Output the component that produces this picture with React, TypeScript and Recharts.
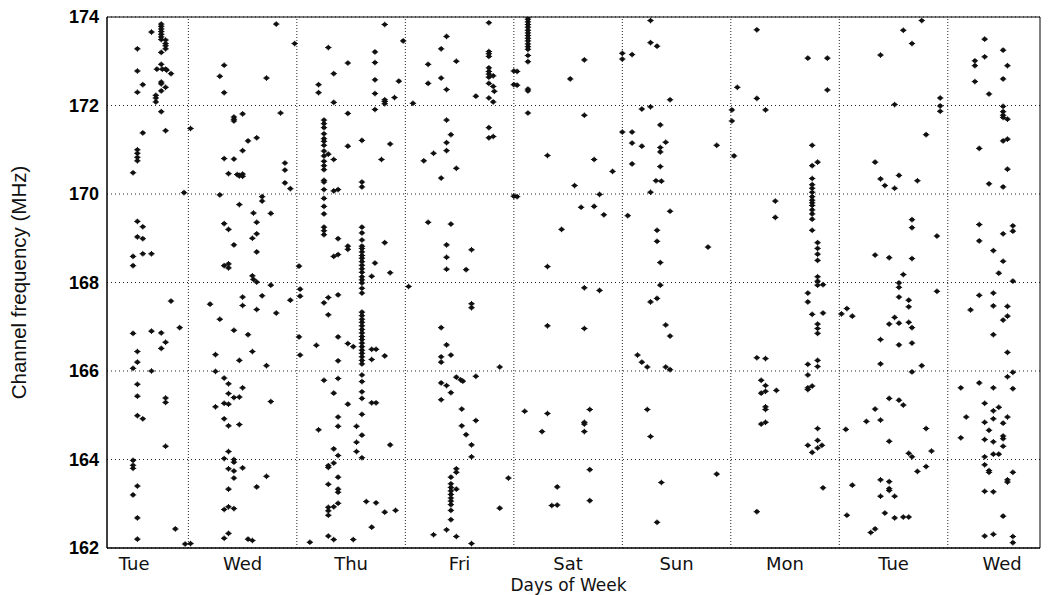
import React from 'react';
import {
  ScatterChart,
  Scatter,
  XAxis,
  YAxis,
  CartesianGrid,
  ReferenceLine,
  ReferenceArea,
} from 'recharts';

// Day-of-week labels (tick at the middle of each day; x unit = days since Tue 00:00)
const dayLabels = ['Tue', 'Wed', 'Thu', 'Fri', 'Sat', 'Sun', 'Mon', 'Tue', 'Wed'];
const dayTicks = [0.5, 1.5, 2.5, 3.5, 4.5, 5.5, 6.5, 7.5, 8.5];
const dayBoundaries = [1, 2, 3, 4, 5, 6, 7, 8];
const freqTicks = [162, 164, 166, 168, 170, 172, 174];
const xDomain: [number, number] = [0.25, 8.85];
const yDomain: [number, number] = [162, 174];

// Each group: [time in days, channel frequencies in MHz observed at that time]
type Group = [number, number[]];

const tue1: Group[] = [
  [0.75, [173.84, 173.79, 173.73, 173.67, 173.61, 173.55, 173.49, 173.2, 172.93, 172.53, 172.49, 172.33, 171.86, 166.86, 166.51]],
  [0.79, [173.48, 173.4, 173.35, 173.28, 172.82, 172.41, 171.43, 166.65, 165.39, 165.29, 164.3]],
  [0.66, [173.66, 168.65, 166.9, 166.0]],
  [0.53, [173.28, 172.78, 172.3, 171.0, 170.92, 170.83, 170.75, 169.38, 169.03, 166.44, 166.2, 165.7, 165.43, 164.99, 163.4, 162.68, 162.2]],
  [0.71, [172.82]],
  [0.76, [172.82]],
  [0.8, [172.8]],
  [0.84, [172.72, 167.58]],
  [0.58, [172.47, 171.38, 169.26, 168.99, 168.65, 164.92]],
  [0.7, [172.23, 172.17, 172.08]],
  [0.49, [170.48, 168.59, 168.38, 166.85, 166.06, 163.98, 163.87, 163.8, 163.2]],
  [0.96, [170.03]],
  [0.92, [166.98]],
  [0.88, [162.43]],
  [0.97, [162.09]],
];

const wed1: Group[] = [
  [1.81, [173.84]],
  [1.98, [173.4]],
  [1.33, [172.91, 172.29, 170.8, 169.33, 168.38, 165.84, 165.27, 164.92, 164.02, 162.87, 162.22]],
  [1.29, [172.66, 169.98, 167.17]],
  [1.72, [172.62, 166.12, 163.62]],
  [1.85, [171.83]],
  [1.5, [171.81, 170.98, 170.45, 170.4, 167.67, 167.48, 165.62, 163.81]],
  [1.42, [171.74, 171.69, 171.65, 170.79, 168.85, 166.92, 165.4, 164.0, 163.94, 163.74, 163.58, 162.89]],
  [1.02, [171.48, 162.1]],
  [1.63, [171.27, 169.36, 169.1, 168.69, 168.01, 167.39, 163.38]],
  [1.55, [171.2, 166.82, 162.2]],
  [1.89, [170.7, 170.54, 170.25]],
  [1.37, [170.46, 169.2, 168.42, 168.33, 165.71, 165.49, 165.25, 164.76, 164.18, 163.79, 163.33, 162.93, 162.33]],
  [1.45, [170.44]],
  [1.47, [170.41, 170.42, 169.76, 166.24, 165.41, 164.79]],
  [1.94, [170.12, 167.6]],
  [1.68, [169.94, 169.84, 167.7]],
  [1.6, [169.57, 168.07]],
  [1.76, [169.56, 167.94, 165.31]],
  [1.59, [169.0, 168.15, 166.44, 162.17]],
  [2.02, [168.37, 166.77]],
  [1.2, [167.51]],
  [1.81, [167.31]],
  [1.25, [166.37, 165.99, 165.19]],
];

const thu1: Group[] = [
  [2.81, [173.83, 172.13, 172.09, 172.04, 168.9, 166.34, 162.81]],
  [2.98, [173.46]],
  [2.29, [173.31, 170.9, 167.66, 167.27, 163.86, 163.82, 163.44, 162.92, 162.84, 162.74, 162.27]],
  [2.72, [173.21, 172.97, 172.58, 172.27, 171.91, 168.44]],
  [2.47, [172.96, 171.82, 171.08, 168.82, 168.75, 166.62, 165.25]],
  [2.34, [172.72, 172.07, 170.78, 170.07, 168.59, 165.5, 164.24, 163.92, 162.93, 162.19]],
  [2.2, [172.47, 172.29, 164.67]],
  [2.94, [172.55]],
  [2.9, [172.18]],
  [2.25, [171.67, 171.59, 171.5, 171.36, 171.25, 171.19, 171.1, 170.97, 170.86, 170.74, 170.64, 170.55, 170.31, 170.27, 170.1, 169.9, 169.72, 169.55, 169.25, 169.17, 169.08, 167.54, 165.79]],
  [2.6, [171.21, 170.27, 170.16, 169.25, 169.12, 168.96, 168.82, 168.77, 168.69, 168.61, 168.55, 168.47, 168.39, 168.31, 168.23, 168.13, 168.06, 167.99, 167.87, 167.76, 167.33, 167.25, 167.17, 167.1, 167.02, 166.94, 166.86, 166.78, 166.71, 166.63, 166.55, 166.47, 166.4, 166.32, 166.24, 166.16, 165.91, 165.76, 165.53, 165.38, 165.02, 164.55, 164.04]],
  [2.86, [171.13, 168.22, 164.33]],
  [2.78, [170.78]],
  [2.38, [170.1, 168.99, 168.63, 167.72, 166.77, 166.23, 165.83, 164.96, 164.75, 164.09, 163.6, 163.33, 163.26, 163.01]],
  [2.69, [168.14, 166.49, 166.26, 165.28, 162.47]],
  [2.73, [166.49, 165.28, 163.02]],
  [2.03, [167.85, 167.69, 166.36]],
  [2.18, [166.58]],
  [2.52, [166.55, 162.19]],
  [2.55, [164.75, 164.39, 164.18]],
  [2.64, [163.05]],
  [2.91, [162.85]],
  [2.12, [162.13]],
];

const fri1: Group[] = [
  [3.77, [173.87, 173.22, 173.17, 173.11, 172.85, 172.77, 172.71, 172.64, 172.5, 172.17, 171.5, 171.27]],
  [3.38, [173.56, 172.36, 171.67, 171.16, 170.98, 168.85, 168.57, 168.3, 166.59, 165.67, 162.41]],
  [3.33, [173.28, 172.62, 170.36, 166.98, 166.32, 166.2, 165.73, 165.35]],
  [3.47, [173.0, 170.58, 165.86, 163.79, 163.71, 163.33, 162.26]],
  [3.21, [172.93, 172.5, 169.36]],
  [3.81, [172.67, 172.43, 172.08, 171.3]],
  [4.03, [172.77, 172.46, 169.94]],
  [3.82, [172.32]],
  [3.65, [172.21, 165.88, 164.88]],
  [3.07, [172.05]],
  [3.42, [171.34, 169.32, 166.36, 165.51, 163.6, 163.45, 163.37, 163.29, 163.21, 163.13, 163.06, 162.98, 162.85, 162.64]],
  [3.26, [170.92, 162.3]],
  [3.17, [170.75]],
  [3.61, [168.74, 167.52, 167.43, 164.33, 164.06, 162.1]],
  [3.56, [168.29, 164.56]],
  [3.03, [167.91]],
  [3.87, [166.09, 162.9]],
  [3.51, [165.8]],
  [3.53, [165.77]],
  [3.52, [165.14, 164.76]],
  [3.95, [163.58]],
];

const sat1: Group[] = [
  [4.13, [174.0, 173.95, 173.89, 173.83, 173.77, 173.7, 173.64, 173.58, 173.52, 173.46, 173.39, 173.33, 173.27, 173.13, 172.99, 172.37, 172.33, 171.83]],
  [5.0, [173.18, 173.05, 171.4]],
  [4.65, [173.03, 171.78, 167.88, 166.96, 164.84, 164.8, 164.63]],
  [4.0, [172.78, 172.47, 169.95]],
  [4.52, [172.6]],
  [4.31, [170.87, 168.36, 167.02, 165.04]],
  [4.74, [170.78, 169.72]],
  [4.91, [170.51]],
  [4.56, [170.19]],
  [4.79, [169.99, 167.82]],
  [4.62, [169.7]],
  [4.83, [169.53]],
  [5.05, [169.51]],
  [4.44, [169.2]],
  [4.1, [165.09]],
  [4.7, [165.13, 163.77, 163.07]],
  [4.26, [164.63]],
  [4.4, [163.38, 162.97]],
  [4.35, [162.96]],
];

const sun1: Group[] = [
  [5.26, [173.92, 173.42, 171.97, 170.04, 167.56, 164.52]],
  [5.32, [173.34, 169.18, 168.93, 167.64, 162.58]],
  [5.09, [173.15, 171.4, 171.15, 170.68]],
  [5.44, [172.13, 169.61, 166.79, 166.03]],
  [5.18, [171.92, 171.08, 166.2]],
  [5.35, [171.56, 171.05, 170.95, 170.62, 168.45, 167.94]],
  [5.4, [171.17, 167.04, 166.09]],
  [5.87, [171.1, 163.67]],
  [5.31, [170.3]],
  [5.36, [170.29, 163.48]],
  [5.79, [168.8]],
  [5.14, [166.36]],
  [5.23, [166.09, 165.13]],
];

const mon1: Group[] = [
  [6.24, [173.71, 172.16, 166.3, 162.82]],
  [6.71, [173.07, 167.76, 167.56, 166.15, 165.91, 165.62, 165.58, 164.32]],
  [6.89, [173.07, 172.35]],
  [6.06, [172.41]],
  [6.01, [171.9, 171.65]],
  [6.32, [171.9, 166.28, 165.67, 165.54, 165.19, 165.13, 164.84]],
  [6.03, [170.86]],
  [6.75, [171.1, 170.64, 170.35, 170.21, 170.13, 170.04, 169.94, 169.86, 169.8, 169.74, 169.64, 169.55, 169.43, 169.18, 167.28, 165.66, 164.16]],
  [6.8, [170.72, 168.9, 168.77, 168.64, 168.5, 168.13, 168.03, 167.94, 167.06, 166.96, 166.85, 166.24, 166.1, 164.7, 164.43, 164.26]],
  [6.41, [169.84, 169.47]],
  [6.85, [167.95, 167.31, 163.36]],
  [7.02, [167.29]],
  [6.28, [165.79, 165.5, 164.8]],
  [6.42, [165.56]],
  [7.06, [164.68]],
  [6.84, [164.32]],
];

const tue2: Group[] = [
  [7.76, [173.92, 166.12]],
  [7.59, [173.7, 168.18, 165.23, 162.7]],
  [7.67, [173.4, 169.42, 169.24, 168.54, 166.98, 166.63, 165.98, 164.06]],
  [7.38, [173.14, 170.34, 166.71, 166.16, 164.89, 163.54, 163.17]],
  [7.93, [172.17, 171.99, 171.87]],
  [7.51, [172.02, 170.13, 167.21, 163.17, 162.68]],
  [7.8, [171.34, 164.7, 163.84]],
  [7.33, [170.72, 168.62, 165.14, 162.43]],
  [7.55, [170.42, 167.99, 167.89, 167.67, 167.08, 166.59, 165.34]],
  [7.72, [170.3, 163.73]],
  [7.42, [170.19, 162.79]],
  [7.9, [169.05, 167.8]],
  [7.46, [168.56, 167.06, 165.38, 164.41, 163.5, 163.34, 163.3]],
  [7.64, [167.6, 167.45, 167.1, 164.14, 162.7]],
  [7.07, [167.41, 162.74]],
  [7.12, [167.24, 163.42]],
  [7.25, [164.86]],
  [7.85, [164.19]],
  [7.29, [162.35]],
];

const wed2: Group[] = [
  [8.34, [173.5, 173.1, 165.27, 164.84, 164.45, 164.06, 163.88, 163.28, 162.27]],
  [8.51, [173.25, 172.6, 171.98, 171.86, 171.78, 171.73, 171.2, 170.16, 169.1, 168.48, 167.15, 164.82, 164.53, 164.47, 164.3, 162.72]],
  [8.25, [173.01, 172.9, 172.54]],
  [8.55, [172.9, 171.69, 171.24, 170.56, 167.46, 167.24, 166.42, 165.87, 164.96, 163.54, 163.49]],
  [8.38, [172.26, 170.23, 164.66, 163.75, 163.71]],
  [8.29, [171.03, 169.31, 168.94, 167.71, 165.73]],
  [8.6, [169.28, 169.16, 168.03, 165.97, 165.6, 163.71, 162.26, 162.12]],
  [8.42, [168.72, 167.76, 167.47, 166.82, 165.62, 165.1, 164.92, 164.4, 164.12, 163.27, 162.31]],
  [8.47, [168.21, 165.18, 164.12]],
  [8.21, [167.38]],
  [8.12, [165.62, 164.49]],
  [8.17, [164.96]],
];

const columns = [tue1, wed1, thu1, fri1, sat1, sun1, mon1, tue2, wed2];
const points = columns
  .flat()
  .flatMap(([x, ys]) => ys.map((y) => ({ x, y })));

const Marker = (props: any) => {
  const { cx, cy } = props;
  if (cx == null || cy == null) return null;
  return (
    <g>
      <ellipse cx={cx} cy={cy} rx={2.4} ry={2.1} fill="#111" />
      <path
        d={`M${cx - 3.2},${cy}H${cx + 3.2}M${cx},${cy - 2.8}V${cy + 2.8}`}
        stroke="#111"
        strokeWidth={1}
      />
    </g>
  );
};

const fontMain = "'DejaVu Sans', 'Liberation Sans', sans-serif";

export default function App() {
  return (
    <div style={{ position: 'absolute', left: 0, top: 0, background: '#fff' }}>
      <ScatterChart
        width={1051}
        height={595}
        margin={{ top: 17, right: 11, bottom: 0, left: 0 }}
      >
        <CartesianGrid
          vertical={false}
          stroke="#222"
          strokeDasharray="1 3"
        />
        <XAxis
          type="number"
          dataKey="x"
          domain={xDomain}
          ticks={dayTicks}
          allowDataOverflow
          height={47}
          tickLine={false}
          tickMargin={3}
          axisLine={{ stroke: '#000' }}
          tickFormatter={(v: number) => dayLabels[Math.floor(v)]}
          tick={{ fill: '#111', fontSize: 18, fontFamily: fontMain }}
          label={(p: any) => {
            const vb = p.viewBox || {};
            return (
              <text
                x={vb.x + vb.width / 2 - 5}
                y={vb.y + 42.5}
                textAnchor="middle"
                fill="#111"
                fontSize={17}
                fontFamily={fontMain}
              >
                Days of Week
              </text>
            );
          }}
        />
        <YAxis
          type="number"
          dataKey="y"
          domain={yDomain}
          ticks={freqTicks}
          allowDataOverflow
          width={107}
          tickLine={false}
          axisLine={{ stroke: '#000' }}
          tick={{ fill: '#000', fontSize: 18, fontWeight: 'bold', fontFamily: "'Liberation Sans', Arial, sans-serif" }}
          label={(p: any) => {
            const vb = p.viewBox || {};
            const cx = vb.x + 18;
            const cy = vb.y + vb.height / 2;
            return (
              <text
                x={cx}
                y={cy}
                transform={`rotate(-90 ${cx} ${cy})`}
                textAnchor="middle"
                dominantBaseline="central"
                fill="#111"
                fontSize={20.5}
                fontFamily="'Liberation Sans Narrow', 'Liberation Sans', sans-serif"
              >
                Channel frequency (MHz)
              </text>
            );
          }}
        />
        {dayBoundaries.map((b) => (
          <ReferenceLine key={b} x={b} stroke="#222" strokeDasharray="1 2" />
        ))}
        <ReferenceArea
          x1={xDomain[0]}
          x2={xDomain[1]}
          y1={yDomain[0]}
          y2={yDomain[1]}
          fill="none"
          fillOpacity={0}
          stroke="#000"
          strokeWidth={1}
        />
        <Scatter data={points} shape={Marker} isAnimationActive={false} />
      </ScatterChart>
    </div>
  );
}
